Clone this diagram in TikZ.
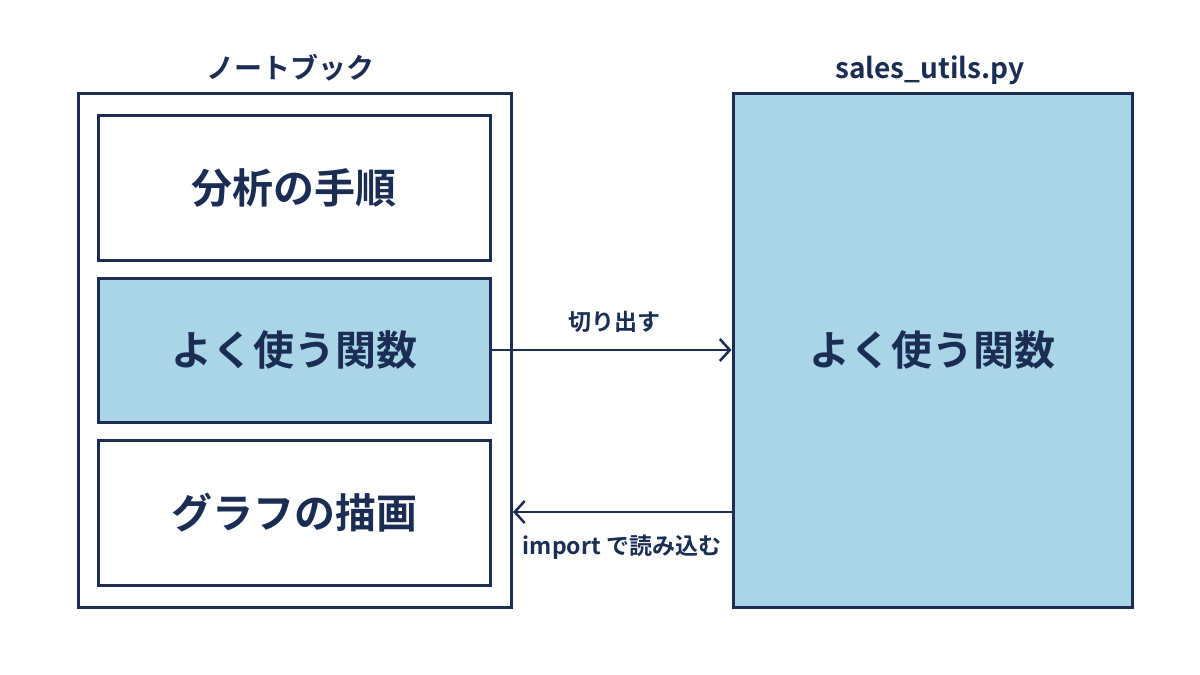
\documentclass[tikz,border=0pt]{standalone}
\usepackage{fontspec}
\setmainfont{Noto Sans CJK JP}[BoldFont={Noto Sans CJK JP Bold}]
\usetikzlibrary{arrows.meta}
\definecolor{navy}{HTML}{1B2D52}
\definecolor{lb}{HTML}{A9D5E6}
\begin{document}
\begin{tikzpicture}[x=1pt,y=-1pt,
  box/.style={draw=navy,line width=3pt},
  big/.style={text=navy,font=\fontsize{41}{48}\selectfont\bfseries},
  ttl/.style={text=navy,font=\fontsize{28}{32}\selectfont\bfseries},
  lab/.style={text=navy,font=\fontsize{23}{27}\selectfont\bfseries},
  arr/.style={draw=navy,line width=2.5pt,-{Straight Barb[length=10pt,width=22pt,line width=2.5pt]}}]
\useasboundingbox (0,0) rectangle (1200,675);
\fill[white] (0,0) rectangle (1200,675);
\draw[box] (78,93) rectangle (511,607);
\coordinate (nbR) at (513,512);
\node[box,minimum width=392pt,minimum height=145pt] (a) at (294,187.5) {};
\node[big] at (a) {分析の手順};
\node[box,fill=lb,minimum width=392pt,minimum height=144pt] (b) at (294,350) {};
\node[big] at (b) {よく使う関数};
\node[box,minimum width=392pt,minimum height=145pt] (c) at (294,512.5) {};
\node[big] at (c) {グラフの描画};
\node[box,fill=lb,minimum width=399pt,minimum height=514pt] (r) at (932.5,350) {};
\node[big] at (r) {よく使う関数};
\node[ttl] (t1) at (290,68) {ノートブック};
\node[ttl] (t2) at (930,70) {sales\_utils.py};
\coordinate (rl) at (733,512);
\draw[arr] (b.east) -- (r.west);
\draw[arr] (rl) -- (nbR);
\node[lab] (l1) at (614,322) {切り出す};
\node[lab] (l2) at (622,547) {import で読み込む};
\end{tikzpicture}
\end{document}
